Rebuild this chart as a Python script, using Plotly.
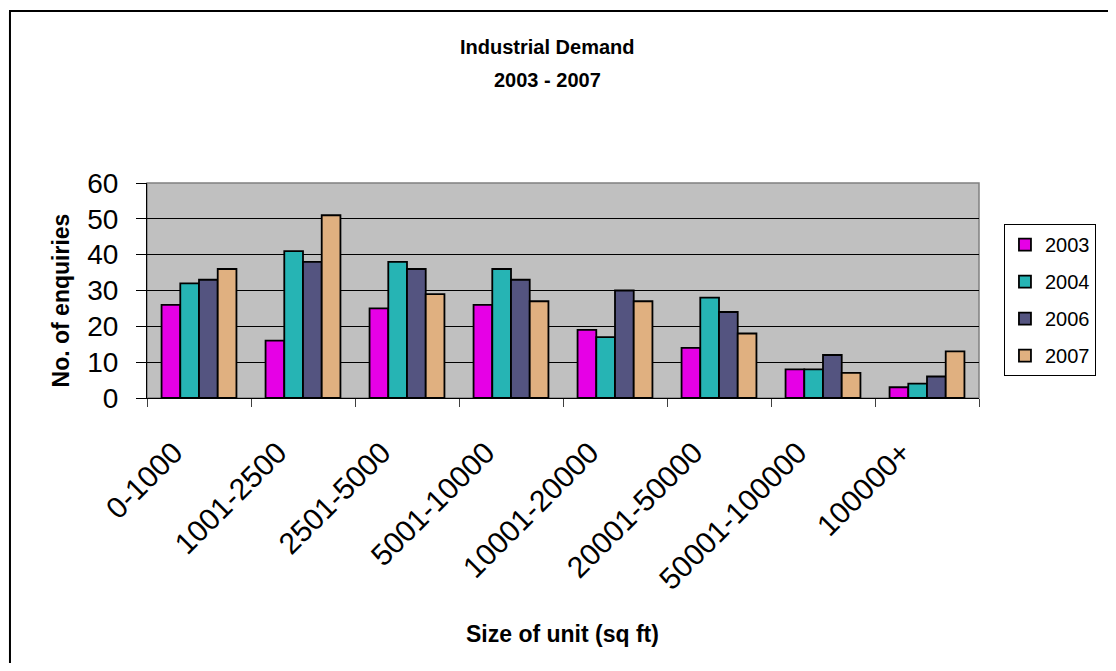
import plotly.graph_objects as go

# categories and values
sizes = ['0-1000', '1001-2500', '2501-5000', '5001-10000',
         '10001-20000', '20001-50000', '50001-100000', '100000+']
years = ['2003', '2004', '2006', '2007']
y2003 = [26, 16, 25, 26, 19, 14, 8, 3]
y2004 = [32, 41, 38, 36, 17, 28, 8, 4]
y2006 = [33, 38, 36, 33, 30, 24, 12, 6]
y2007 = [36, 51, 29, 27, 27, 18, 7, 13]

colors = ['#E600E6', '#26B4B4', '#545480', '#E0B080']

data = []
for name, vals, col in zip(years, [y2003, y2004, y2006, y2007], colors):
    data.append(go.Bar(
        x=sizes, y=vals,
        name=name,
        legendgroup=name,
        marker=dict(color=col, line=dict(color='black', width=1.8))
    ))

# empty trace that carries the label axis (labels sit a bit left of the groups)
data.append(go.Scatter(x=sizes, y=[None] * len(sizes), xaxis='x2',
                       showlegend=False, hoverinfo='skip'))

fig = go.Figure(data=data)

# page has an 8px body margin, so the figure is 1100x655
fig.update_layout(
    width=1100, height=655,
    margin=dict(l=139, r=123, t=175, b=265),
    paper_bgcolor='white',
    plot_bgcolor='#C0C0C0',
    font=dict(family='Arial, Liberation Sans', color='black'),
    barmode='group',
    bargap=0.28,
    bargroupgap=0,
    showlegend=True,
    legend=dict(
        x=1.03, y=0.809, xanchor='left', yanchor='top',
        bordercolor='black', borderwidth=1,
        font=dict(size=20),
        tracegroupgap=8,
        itemwidth=30,
    ),
    xaxis=dict(
        type='category', showticklabels=False, showgrid=False,
        showline=True, linecolor='black', linewidth=1,
        ticks='outside', ticklen=8, tickcolor='#404040',
        tickson='boundaries', range=[-0.5, 7.5],
    ),
    xaxis2=dict(
        type='category', categoryarray=sizes, categoryorder='array',
        overlaying='x', anchor='y', side='bottom',
        range=[-0.5 + 0.24, 7.5 + 0.24],
        tickangle=-45,
        tickfont=dict(size=30),
        ticklabelstandoff=30,
        ticks='', showgrid=False, showline=False, zeroline=False,
    ),
)

fig.update_yaxes(
    range=[0, 60], dtick=10,
    tickfont=dict(size=28),
    ticklabelstandoff=12,
    showgrid=True, gridcolor='black', gridwidth=1,
    showline=True, linecolor='black', linewidth=1,
    ticks='outside', ticklen=10, tickcolor='black',
    zeroline=False,
)

# grey top/right frame of the plot area
fig.add_shape(type='rect', xref='paper', yref='paper', x0=0, x1=1, y0=0, y1=1,
              line=dict(color='#808080', width=1.5), layer='below')

# outer chart border
fig.add_shape(type='rect', xref='paper', yref='paper',
              x0=-0.1647, x1=1.2, y0=-1.35, y1=1.8,
              line=dict(color='black', width=2))

fig.add_annotation(text='<b>Industrial Demand</b>', xref='paper', yref='paper',
                   x=0.481, y=1.633, xanchor='center', yanchor='middle',
                   showarrow=False, font=dict(size=20))
fig.add_annotation(text='<b>2003 - 2007</b>', xref='paper', yref='paper',
                   x=0.481, y=1.479, xanchor='center', yanchor='middle',
                   showarrow=False, font=dict(size=20))
fig.add_annotation(text='<b>Size of unit (sq ft)</b>', xref='paper', yref='paper',
                   x=0.499, y=-1.098, xanchor='center', yanchor='middle',
                   showarrow=False, font=dict(size=23))
fig.add_annotation(text='<b>No. of enquiries</b>', xref='paper', yref='paper',
                   x=-0.104, y=0.456, xanchor='center', yanchor='middle',
                   showarrow=False, textangle=-90, font=dict(size=23))

fig.write_html("out.html")
